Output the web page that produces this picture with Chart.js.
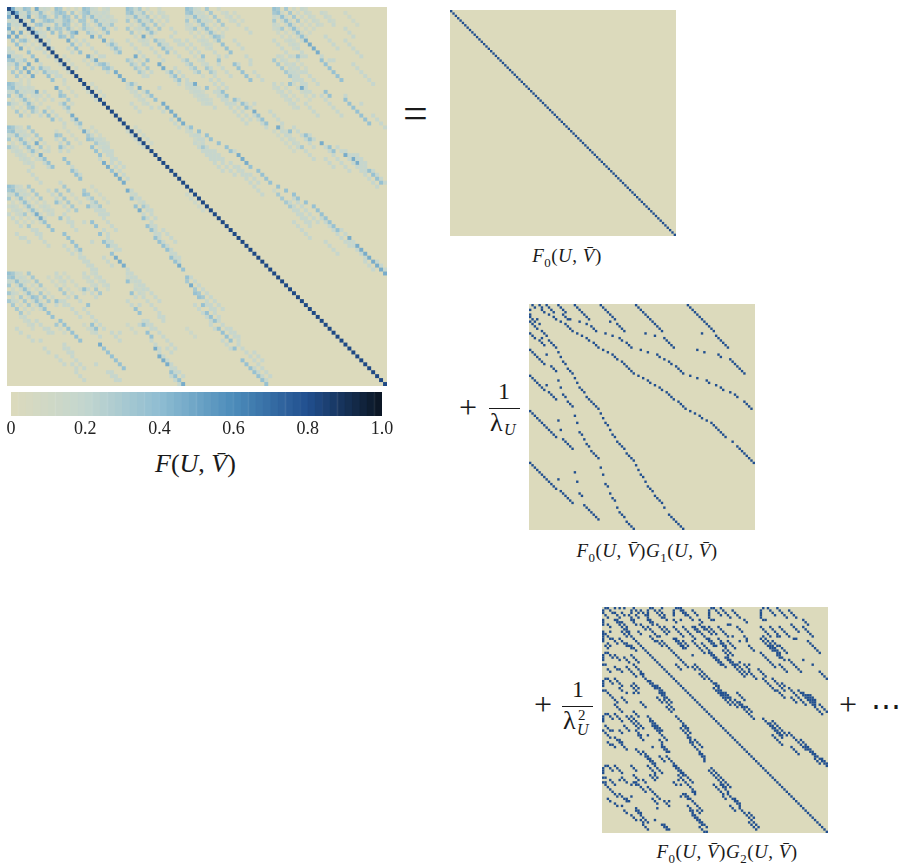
<!DOCTYPE html>
<html>
<head>
<meta charset="utf-8">
<script src="https://cdn.jsdelivr.net/npm/chart.js@4"></script>
<style>
  html, body { margin: 0; padding: 0; background: #fff; }
  body { width: 900px; height: 867px; position: relative; overflow: hidden; font-family: 'Liberation Serif', serif; color: #1a1a1a; }
  canvas { position: absolute; display: block; }
  .txt { position: absolute; white-space: nowrap; line-height: 1; }
  .txt i { font-style: italic; }
  .cap { font-size: 19px; letter-spacing: 0.5px; transform: translateX(-50%); }
  .num { font-size: 24px; }
  .low { font-size: 26px; }
  .small { font-size: 16px; font-style: italic; }
  .bar { position: absolute; height: 1px; background: #1a1a1a; }
  sub { font-size: 68%; line-height: 0; }
</style>
</head>
<body>
<canvas id="main" width="380" height="379" style="left:7px;top:7px"></canvas>
<canvas id="f0" width="226" height="226" style="left:450px;top:10px"></canvas>
<canvas id="g1" width="226" height="226" style="left:529px;top:304px"></canvas>
<canvas id="g2" width="226" height="226" style="left:602px;top:607px"></canvas>
<canvas id="bar" width="400" height="50" style="left:0;top:392px"></canvas>

<div class="txt" style="left:403px;top:92px;font-size:44px">=</div>
<div class="txt" style="left:155px;top:451px;font-size:26px"><i>F</i>(<i>U</i>, <i>V̄</i>)</div>
<div class="txt cap" style="left:567px;top:246px"><i>F</i><sub>0</sub>(<i>U</i>, <i>V̄</i>)</div>

<div class="txt" style="left:459px;top:391px;font-size:32px">+</div>
<div class="txt num" style="left:498px;top:379px">1</div>
<div class="bar" style="left:489px;top:408px;width:31px"></div>
<div class="txt low" style="left:490px;top:410px">λ</div>
<div class="txt small" style="left:504px;top:422px">U</div>
<div class="txt cap" style="left:647px;top:541px"><i>F</i><sub>0</sub>(<i>U</i>, <i>V̄</i>)<i>G</i><sub>1</sub>(<i>U</i>, <i>V̄</i>)</div>

<div class="txt" style="left:534px;top:688px;font-size:32px">+</div>
<div class="txt num" style="left:572px;top:677px">1</div>
<div class="bar" style="left:562px;top:706px;width:31px"></div>
<div class="txt low" style="left:563px;top:708px">λ</div>
<div class="txt" style="left:578px;top:708px;font-size:15px">2</div>
<div class="txt small" style="left:577px;top:722px">U</div>
<div class="txt cap" style="left:727px;top:842px"><i>F</i><sub>0</sub>(<i>U</i>, <i>V̄</i>)<i>G</i><sub>2</sub>(<i>U</i>, <i>V̄</i>)</div>

<div class="txt" style="left:839px;top:688px;font-size:32px">+</div>
<div class="txt" style="left:871px;top:691px;font-size:30px">⋯</div>

<script>
// matrix size, cells per side
const GRID = 96;

// colour bar
const colorStops = [
  [0, '#dcdabc'], [0.2, '#c3d6cf'], [0.4, '#8fbdd2'],
  [0.6, '#4c8cba'], [0.8, '#214f8f'], [1, '#0b1420']
];
const barLevels = [0.01,0.03,0.05,0.07,0.09,0.11,0.13,0.15,0.17,0.19,0.21,0.23,0.25,0.27,0.29,0.31,0.33,0.35,0.37,0.39,
  0.41,0.43,0.45,0.47,0.49,0.51,0.53,0.55,0.57,0.59,0.61,0.63,0.65,0.67,0.69,0.71,0.73,0.75,0.77,0.79,
  0.81,0.83,0.85,0.87,0.89,0.91,0.93,0.95,0.97,0.99];

// value of each term as it shows in the big matrix
const diagValue = 0.82;
const g1Value = 0.37;
const g2Value = 0.18;
const faintValue = 0.13;
const offDiagMax = 0.47;
const panelValue = 0.8;

// runs: [column, row, cells going down-right]
const diagRuns = [[0, 0, 96]];

const g1Runs = [
  [67,0,12],[79,13,6],[85,23,7],[73,12,1],[71,19,1],[74,20,1],[80,21,1],[81,22,1],
  [45,0,12],[57,14,5],[54,21,1],[55,22,1],[57,23,1],[59,24,2],[62,26,4],[49,12,1],[53,13,1],[47,19,1],[50,20,1],
  [68,30,1],[71,31,1],[75,32,2],[79,34,1],[81,35,2],[85,37,1],[87,38,2],[91,41,4],
  [30,0,7],[37,8,4],[34,7,1],[32,12,1],[35,13,1],[38,14,2],[41,16,3],[31,19,1],[33,20,1],[35,21,3],[39,24,6],
  [46,30,1],[48,31,1],[50,32,2],[53,34,1],[55,35,2],[58,37,4],[63,41,4],
  [68,45,1],[70,46,1],[72,47,2],[75,49,1],[77,50,3],[80,53,4],[86,58,1],[88,60,8],
  [19,0,7],[21,7,1],[24,8,1],[26,9,3],[20,12,1],[22,13,1],[24,14,2],[27,16,3],
  [12,0,4],[14,4,1],[15,5,2],[17,6,1],[15,8,4],[13,7,1],[11,6,1],[10,5,1],[8,4,1],
  [0,45,12],[14,57,5],[12,49,1],[13,53,1],[19,47,1],[20,50,1],[21,54,2],[23,57,1],[24,59,2],[26,62,4],
  [30,69,1],[31,72,1],[32,76,2],[34,80,1],[35,82,2],[37,86,1],[38,88,3],[41,92,4],
  [0,67,12],[13,79,6],[19,71,1],[20,75,1],[12,74,1],[21,80,2],[23,85,7],
  [0,30,7],[7,34,1],[8,37,4],[12,32,1],[13,35,1],[14,38,2],[16,41,3],[19,31,1],[20,33,1],[21,35,3],[24,39,6],
  [30,46,1],[31,48,1],[32,50,2],[34,53,1],[35,55,2],[37,58,4],[41,63,4],
  [45,68,1],[46,70,1],[47,72,2],[49,75,1],[50,77,3],[53,81,4],[57,86,1],[59,89,7],
  [0,19,7],[7,21,1],[9,26,3],[12,20,1],[13,22,1],[14,24,2],[16,27,3],
  [0,12,3],[4,15,1],[5,14,1],[5,16,2],[7,13,1],[8,15,4],
  [1,0,2],[4,0,2],[0,2,1],[0,4,1],[0,5,3],[3,6,1],[0,7,1],[1,8,3],[4,8,1],[5,11,2],[7,0,4],[6,3,1],[5,2,1]
];

const g2Runs = [
  [5,5,91],
  [20,12,3],[23,14,3],[27,16,3],[30,19,4],[34,23,3],[38,25,2],[41,28,3],
  [45,30,3],[48,32,2],[49,35,4],[52,36,3],[54,39,4],[58,40,3],[61,42,3],[63,44,1],
  [68,47,3],[71,49,4],[74,52,3],[72,54,5],[79,53,3],[82,56,3],[80,59,4],[86,59,3],[88,61,3],[90,64,3],[93,64,3],
  [67,13,4],[71,17,2],[74,20,2],[72,14,3],[75,16,4],[67,19,7],[75,24,4],[79,22,6],[92,27,4],[85,22,1],[89,24,1],
  [67,8,5],[71,8,4],[75,8,5],[80,7,4],[85,8,5],[74,12,1],[75,12,1],[81,13,1],[82,13,1],[87,14,6],
  [67,1,1],[67,2,1],[67,3,1],[67,4,1],[68,0,1],[70,0,1],[68,5,1],[69,5,1],[71,1,3],[74,0,5],[79,1,4],[85,5,3],
  [46,0,1],[47,0,1],[45,1,1],[45,2,1],[45,3,1],[45,4,1],[46,5,1],[47,5,1],[48,1,3],[50,0,5],[55,1,4],[60,5,2],
  [53,7,1],[54,7,1],[57,8,3],[45,8,4],[49,8,5],[60,12,2],[55,12,1],[45,13,4],[49,13,4],[53,14,4],[58,14,1],[61,14,1],[62,16,3],
  [45,19,6],[51,18,3],[53,21,4],[58,23,1],[60,24,3],[62,24,1],[62,27,4],[66,26,4],[68,30,6],[72,30,6],[76,32,2],[74,35,4],
  [79,34,3],[82,37,5],[85,36,6],[88,37,3],[88,40,6],[92,41,3],[80,38,3],
  [46,31,10],[47,34,7],[57,36,4],[50,37,5],[56,39,9],
  [68,47,9],[72,48,7],[79,53,8],[87,59,9],[84,56,7],
  [83,35,9],[87,37,4],[92,41,4],[68,12,8],[71,16,7],[52,21,9],[57,24,5],[38,14,6],[45,18,8],[50,15,6],[31,13,5],[39,8,9],
  [30,1,1],[30,2,1],[30,3,1],[31,0,1],[32,0,1],[33,0,6],[33,1,3],[38,1,3],[41,5,2],[30,5,2],[33,5,1],
  [30,8,5],[34,8,5],[38,8,3],[41,7,3],[43,8,4],[30,13,5],[34,14,3],[42,15,4],[39,13,1],
  [31,24,3],[38,20,1],[39,24,6],
  [19,1,1],[19,2,1],[19,3,1],[20,0,1],[21,0,1],[22,1,4],[25,0,1],[24,1,3],[26,4,2],[19,5,3],[19,8,5],[23,7,5],[26,8,3],[24,12,1],[25,14,4],
  [12,1,1],[12,2,1],[13,0,3],[14,3,2],[16,1,3],[12,5,3],[16,7,3],[15,10,2],[18,3,4],
  [0,1,1],[0,2,1],[1,0,1],[2,0,1],[3,1,2],[1,3,2],[0,5,1],[0,6,1],[0,7,1],[2,7,2],[5,0,1],[5,2,3],[7,0,1],[9,0,1],[8,2,2],[6,5,2],[8,6,3],[3,10,1],[0,10,4],[0,11,1],[11,3,3],[10,9,2],
  [0,12,1],[0,13,1],[0,14,1],[1,16,2],[4,13,3],[2,15,2],[7,13,4],[8,10,3],[10,15,3],[12,16,3],
  [0,20,1],[0,21,1],[0,22,1],[1,19,1],[2,19,1],[3,20,2],[0,24,1],[1,24,1],[5,20,3],[7,22,1],[2,26,2],[5,25,2],[7,26,2],[9,21,3],[12,20,4],[13,24,5],[10,25,5],[16,28,3],
  [0,31,1],[0,32,1],[0,33,1],[1,30,1],[2,30,1],[3,31,2],[1,35,3],[0,35,1],[5,30,1],[6,31,3],[7,34,2],[2,36,3],[4,38,3],[8,38,3],[12,33,3],[13,32,3],[14,35,2],[10,36,1],[13,36,1],[16,40,3],[19,31,4],[20,31,5],[24,36,3],[26,39,5],[23,33,4],[23,38,3],[24,35,6],[27,42,3],[5,41,4],[13,44,3],
  [0,46,1],[0,47,1],[0,48,1],[1,45,1],[2,45,1],[3,46,2],[5,45,1],[6,46,3],[1,50,3],[0,52,3],[4,52,1],[7,52,2],[10,46,6],[13,47,4],[9,50,3],[11,52,1],[14,52,3],[15,54,3],[3,55,1],[2,57,2],[5,55,3],[4,58,2],[7,56,2],[8,58,3],[14,60,3],[17,61,6],[24,63,3],
  [12,46,6],[19,46,6],[21,50,7],[25,58,4],[18,63,8],[27,63,10],[32,71,8],
  [20,48,5],[23,50,3],[24,53,2],[31,46,6],[33,51,5],[37,56,2],[39,56,4],[40,60,4],[37,57,5],[41,62,3],[43,65,1],[34,50,4],[36,55,2],[19,54,1],[24,56,2],[21,59,1],[25,59,3],
  [0,68,1],[0,69,1],[0,70,1],[1,67,1],[2,67,1],[3,68,2],[0,72,1],[1,72,1],[5,67,1],[6,68,3],[3,73,3],[1,74,1],[8,72,3],[7,73,1],[12,67,3],[13,71,3],[14,74,3],[19,67,4],[20,71,3],[22,71,2],[12,75,1],[17,73,2],[16,76,3],[13,74,2],[4,78,3],[7,79,3],[10,81,2],[2,81,2],[12,80,1],[5,83,2],[8,84,1],[9,86,2],[14,85,3],[15,87,2],[12,88,3],[16,90,2],[17,92,3],[23,85,1],[22,90,1],[25,92,3],[19,76,3],[22,79,3],[21,81,3],[26,82,3],[28,82,1],
  [0,74,6],[7,79,4],[14,86,6],[26,92,3],[35,79,8],[37,86,8],
  [30,67,5],[33,69,5],[37,73,2],[32,73,1],[30,74,2],[33,75,1],[35,74,5],[38,78,2],[34,79,3],[33,80,1],[37,81,3],[39,83,2],[36,84,3],[40,86,2],[38,88,3],[40,89,2],[41,91,2],[41,93,3],[44,95,1],
  [46,68,9],[45,69,8],[50,75,4],[47,75,3],[50,78,2],[53,79,6],[56,81,3],[51,80,2],[54,84,3],[58,85,9],[60,87,2],[62,87,3],[62,91,4]
];

// faint cells that only show in the big matrix
const faintRuns = [
  [0,1,9],[1,0,8],[3,0,7],[0,3,8],[0,5,6],[5,0,6],
  [7,1,5],[8,0,6],[10,0,4],
  [12,1,6],[13,0,6],[15,0,5],[12,3,5],[12,5,4],[17,0,3],
  [19,1,6],[20,0,6],[22,0,5],[19,3,5],[19,5,3],[24,0,4],
  [30,1,7],[31,0,7],[33,0,6],[30,3,6],[30,5,5],[35,0,5],[38,0,3],
  [45,1,8],[46,0,8],[48,0,7],[45,3,7],[45,5,6],[50,0,6],[53,0,4],[57,1,3],
  [67,1,8],[68,0,8],[70,0,7],[67,3,7],[67,5,6],[72,0,6],[75,0,5],[80,1,3],[85,1,4],
  [0,13,6],[1,12,6],[3,12,5],[0,15,4],[12,13,4],[14,12,4],[19,13,3],[21,12,4],[30,13,4],[32,12,4],[45,13,5],[47,12,5],[67,13,5],[69,12,5],[72,12,4],
  [0,20,7],[1,19,7],[3,19,6],[0,22,6],[0,24,4],[5,19,5],[12,20,5],[14,19,4],[19,20,4],[21,19,4],[30,20,5],[32,19,4],[45,20,5],[47,19,5],[67,20,6],[69,19,5],[72,19,5],
  [0,31,8],[1,30,8],[3,30,7],[0,33,7],[0,35,5],[5,30,6],[12,31,5],[14,30,5],[19,31,5],[21,30,5],[30,31,5],[32,30,5],[45,31,5],[67,31,6],[69,30,6],
  [0,46,9],[1,45,9],[3,45,8],[0,48,7],[0,50,6],[5,45,7],[12,46,6],[14,45,5],[19,46,5],[21,45,5],[30,46,5],[45,47,5],[67,46,5],
  [0,68,9],[1,67,9],[3,67,8],[0,70,7],[0,72,6],[5,67,7],[12,68,6],[14,67,6],[19,68,5],[21,67,5],[30,68,5],[45,69,5],[10,68,5],[0,74,4],
  [3,78,4],[12,80,3],[19,80,3],[30,80,3],[45,81,3]
];

function hexToRgb(hex) {
  return [1, 3, 5].map(i => parseInt(hex.slice(i, i + 2), 16));
}

function colorFor(v) {
  const t = Math.min(v, 1);
  for (let i = 1; i < colorStops.length; i++) {
    if (t <= colorStops[i][0]) {
      const [v0, c0] = colorStops[i - 1];
      const [v1, c1] = colorStops[i];
      const a = hexToRgb(c0), b = hexToRgb(c1);
      const f = (t - v0) / (v1 - v0);
      return `rgb(${a.map((x, k) => Math.round(x + (b[k] - x) * f)).join(',')})`;
    }
  }
  return colorStops[colorStops.length - 1][1];
}

// the distinct "col,row" keys covered by a list of runs
function cellsOf(runs) {
  const keys = new Set();
  runs.forEach(([c, r, len]) => {
    for (let i = 0; i < len; i++) {
      if (c + i < GRID && r + i < GRID) keys.add(`${c + i},${r + i}`);
    }
  });
  return keys;
}

function addTerm(cells, runs, value) {
  cellsOf(runs).forEach(key => cells.set(key, (cells.get(key) || 0) + value));
  return cells;
}

function drawMatrix(id, cells, side) {
  const points = [...cells.entries()].map(([key, v]) => {
    const [c, r] = key.split(',').map(Number);
    return { x: c + 0.5, y: r + 0.5, v };
  });
  new Chart(document.getElementById(id), {
    type: 'scatter',
    data: {
      datasets: [{
        data: points,
        pointStyle: 'rect',
        pointRadius: side / Math.SQRT2,
        pointBorderWidth: 0,
        pointBackgroundColor: points.map(p => colorFor(p.v))
      }]
    },
    options: {
      responsive: false,
      animation: false,
      layout: { padding: 0, autoPadding: false },
      plugins: { legend: { display: false }, tooltip: { enabled: false } },
      scales: {
        x: { type: 'linear', min: 0, max: GRID, display: false },
        y: { type: 'linear', min: 0, max: GRID, reverse: true, display: false }
      }
    },
    plugins: [{
      id: 'panelBackground',
      beforeDraw(chart) {
        const { ctx, chartArea: a } = chart;
        ctx.fillStyle = colorStops[0][1];
        ctx.fillRect(a.left, a.top, a.width, a.height);
      }
    }]
  });
}

const mainCells = new Map();
addTerm(mainCells, faintRuns, faintValue);
addTerm(mainCells, g2Runs.slice(1), g2Value);
addTerm(mainCells, g1Runs, g1Value);
mainCells.forEach((v, key) => mainCells.set(key, Math.min(v, offDiagMax)));
cellsOf(diagRuns).forEach(key => mainCells.set(key, diagValue));
drawMatrix('main', mainCells, 3.95);

drawMatrix('f0', addTerm(new Map(), diagRuns, panelValue), 2.35);
drawMatrix('g1', addTerm(new Map(), g1Runs, panelValue), 2.4);
drawMatrix('g2', addTerm(new Map(), g2Runs, panelValue), 2.4);

new Chart(document.getElementById('bar'), {
  type: 'bar',
  data: {
    labels: barLevels,
    datasets: [{
      data: barLevels.map(() => 1),
      backgroundColor: barLevels.map(colorFor),
      borderColor: barLevels.map(colorFor),
      borderWidth: 1,
      barPercentage: 1,
      categoryPercentage: 1,
      xAxisID: 'x',
      yAxisID: 'y'
    }]
  },
  options: {
    responsive: false,
    animation: false,
    layout: { padding: { left: 11, right: 18, top: 0, bottom: 0 } },
    plugins: { legend: { display: false }, tooltip: { enabled: false } },
    scales: {
      x: { type: 'category', display: false },
      y: { min: 0, max: 1, display: false },
      ticksAxis: {
        type: 'linear',
        position: 'bottom',
        min: 0,
        max: 1,
        offset: false,
        border: { display: false },
        grid: { display: false, drawTicks: false, offset: false },
        afterFit(scale) { scale.height = 26; },
        ticks: {
          stepSize: 0.2,
          padding: 2,
          maxRotation: 0,
          color: '#222',
          font: { family: 'Liberation Serif', size: 18 },
          callback: v => (v === 0 ? '0' : v.toFixed(1))
        }
      }
    }
  }
});
</script>
</body>
</html>
